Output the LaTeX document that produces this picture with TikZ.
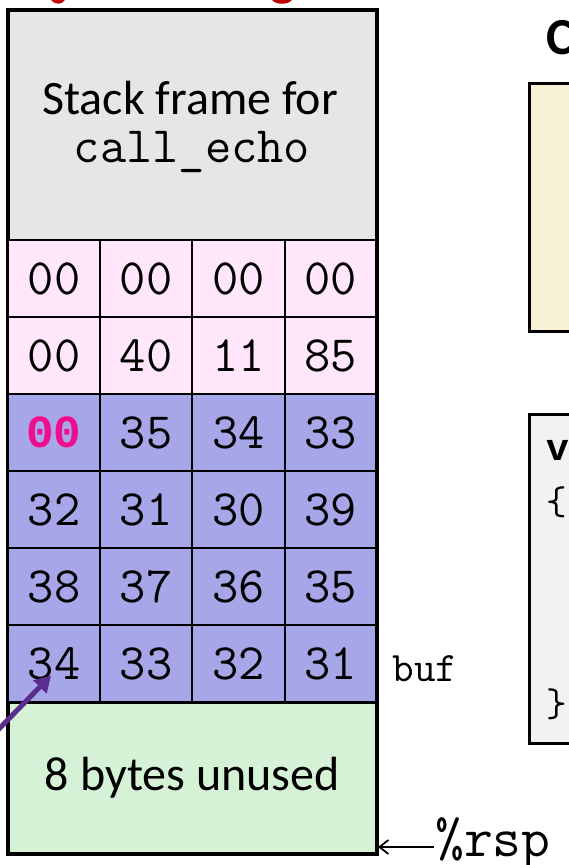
\documentclass[tikz,border=0pt]{standalone}
\usepackage{fontspec}
\setmainfont{Carlito}
\newfontfamily\monob{Liberation Mono}
\usetikzlibrary{arrows.meta,calc}
\definecolor{gframe}{HTML}{E6E6E6}
\definecolor{pinkc}{HTML}{FFE6FA}
\definecolor{bluec}{HTML}{A6A6E8}
\definecolor{greenc}{HTML}{D6F2D6}
\definecolor{yellowc}{HTML}{F7F2D6}
\definecolor{codegray}{HTML}{F2F2F2}
\definecolor{magc}{HTML}{EE0E8E}
\definecolor{purp}{HTML}{5B2D8E}
\definecolor{redc}{HTML}{C00000}
\tikzset{
  cell/.style={draw=black, line width=2pt, inner sep=0pt, anchor=north west,
    font=\ttfamily\fontsize{51}{56}\selectfont},
  pinkcell/.style={cell, fill=pinkc},
  bluecell/.style={cell, fill=bluec},
}
\begin{document}
\begin{tikzpicture}[x=1pt,y=-1pt]
\useasboundingbox (0,0) rectangle (569,865);
\begin{scope}
\clip (0,0) rectangle (569,865);
% red fragments of cut-off title
\fill[redc] (51,0) .. controls (55,5) and (62,5) .. (65,0) -- cycle;
\fill[redc] (272,0) .. controls (276,5) and (288,5) .. (292,0) -- cycle;
% top frame
\node[draw=black, line width=2.5pt, fill=gframe, anchor=north west, minimum width=368pt, minimum height=230pt, inner sep=0pt] (frame) at (7,9) {};
\node[font=\fontsize{48}{52}\selectfont] (sf1) at (190,98) {Stack frame for};
\node[font=\ttfamily\fontsize{51}{56}\selectfont] (sf2) at (192,152) {call\_echo};
% row 1
\node[pinkcell, minimum width=92pt, minimum height=77pt] (r1a) at (7,239) {00};
\node[pinkcell, minimum width=92pt, minimum height=77pt] (r1b) at (99,239) {00};
\node[pinkcell, minimum width=93pt, minimum height=77pt] (r1c) at (191,239) {00};
\node[pinkcell, minimum width=91pt, minimum height=77pt] (r1d) at (284,239) {00};
% row 2
\node[pinkcell, minimum width=92pt, minimum height=77pt] (r2a) at (7,316) {00};
\node[pinkcell, minimum width=92pt, minimum height=77pt] (r2b) at (99,316) {40};
\node[pinkcell, minimum width=93pt, minimum height=77pt] (r2c) at (191,316) {11};
\node[pinkcell, minimum width=91pt, minimum height=77pt] (r2d) at (284,316) {85};
% row 3
\node[bluecell, minimum width=92pt, minimum height=77pt, text=magc, font=\monob\bfseries\fontsize{46}{50}\selectfont] (r3a) at (7,393) {00};
\node[bluecell, minimum width=92pt, minimum height=77pt] (r3b) at (99,393) {35};
\node[bluecell, minimum width=93pt, minimum height=77pt] (r3c) at (191,393) {34};
\node[bluecell, minimum width=91pt, minimum height=77pt] (r3d) at (284,393) {33};
% row 4
\node[bluecell, minimum width=92pt, minimum height=77pt] (r4a) at (7,470) {32};
\node[bluecell, minimum width=92pt, minimum height=77pt] (r4b) at (99,470) {31};
\node[bluecell, minimum width=93pt, minimum height=77pt] (r4c) at (191,470) {30};
\node[bluecell, minimum width=91pt, minimum height=77pt] (r4d) at (284,470) {39};
% row 5
\node[bluecell, minimum width=92pt, minimum height=77pt] (r5a) at (7,547) {38};
\node[bluecell, minimum width=92pt, minimum height=77pt] (r5b) at (99,547) {37};
\node[bluecell, minimum width=93pt, minimum height=77pt] (r5c) at (191,547) {36};
\node[bluecell, minimum width=91pt, minimum height=77pt] (r5d) at (284,547) {35};
% row 6
\node[bluecell, minimum width=92pt, minimum height=77pt] (r6a) at (7,624) {34};
\node[bluecell, minimum width=92pt, minimum height=77pt] (r6b) at (99,624) {33};
\node[bluecell, minimum width=93pt, minimum height=77pt] (r6c) at (191,624) {32};
\node[bluecell, minimum width=91pt, minimum height=77pt] (r6d) at (284,624) {31};
% unused
\node[draw=black, line width=2.5pt, fill=greenc, anchor=north west, minimum width=368pt, minimum height=151pt, inner sep=0pt, font=\fontsize{48}{52}\selectfont] (unused) at (7,701) {8 bytes unused};
% outer border
\draw[line width=3pt] (frame.north west) rectangle (unused.south east);
% labels
\node[font=\ttfamily\fontsize{42}{46}\selectfont, anchor=west] (buf) at (389,669) {buf};
\node[font=\ttfamily\fontsize{56}{60}\selectfont, anchor=west, inner sep=1pt] (rsp) at (434,843) {\%rsp};
\coordinate (rspend) at (378,847);
\draw[-{Straight Barb[length=9pt,width=14pt]}, line width=1.8pt] (rsp.west |- rspend) -- (rspend);
% purple arrow
\coordinate (pstart) at (-6,734);
\coordinate (ptip) at ($(r6a.center)+(-3,12)$);
\draw[purp, line width=5pt, -{Triangle[length=16pt,width=18pt]}] (pstart) -- (ptip);
% right boxes (cut off)
\node[font=\bfseries\fontsize{52}{56}\selectfont, anchor=west] (ctitle) at (543,38) {C};
\node[draw=black, line width=2.5pt, fill=yellowc, anchor=north west, minimum width=80pt, minimum height=248pt, inner sep=0pt] (ybox) at (528,82) {};
\node[draw=black, line width=2.5pt, fill=codegray, anchor=north west, minimum width=80pt, minimum height=329pt, inner sep=0pt] (cbox) at (528,413) {};
\node[font=\monob\bfseries\fontsize{38}{42}\selectfont, anchor=west] (cv) at (543,450) {v};
\node[font=\ttfamily\fontsize{40}{44}\selectfont, anchor=west] (cb1) at (543,502) {\{};
\node[font=\ttfamily\fontsize{40}{44}\selectfont, anchor=west] (cb2) at (543,704) {\}};
\end{scope}
\end{tikzpicture}
\end{document}
